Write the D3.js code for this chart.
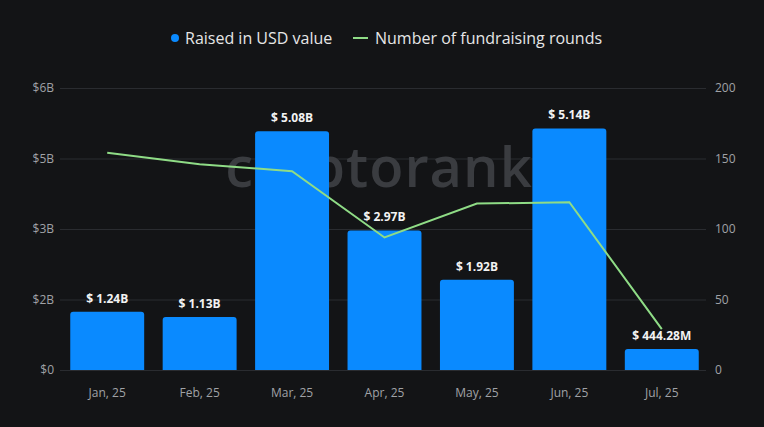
<!DOCTYPE html>
<html>
<head>
<meta charset="utf-8">
<script src="https://cdn.jsdelivr.net/npm/d3@7"></script>
<style>
  body { margin: 0; background: #131416; }
  svg { display: block; font-family: "Open Sans", "Noto Sans", sans-serif; }
</style>
</head>
<body>
<div id="container"></div>
<script>
let w = 764;
let h = 427;

// data
let months = ["Jan, 25", "Feb, 25", "Mar, 25", "Apr, 25", "May, 25", "Jun, 25", "Jul, 25"];
let raisedUSD = [1.24e9, 1.13e9, 5.08e9, 2.97e9, 1.92e9, 5.14e9, 444.28e6];
let raisedLabels = ["$ 1.24B", "$ 1.13B", "$ 5.08B", "$ 2.97B", "$ 1.92B", "$ 5.14B", "$ 444.28M"];
let rounds = [154, 146, 141, 94, 118, 119, 29];
let leftTicks = [0, 1.5e9, 3e9, 4.5e9, 6e9];
let leftTickLabels = ["$0", "$2B", "$3B", "$5B", "$6B"];
let rightTicks = [0, 50, 100, 150, 200];

let blue = "#0a8aff";
let green = "#8fdc86";

let viz = d3.select("#container")
  .append("svg")
    .attr("width", w)
    .attr("height", h)
    .style("background-color", "#131416");

let plotLeft = 61, plotRight = 708, plotTop = 88, plotBottom = 370;

let xScale = d3.scaleBand().domain(months).range([plotLeft, plotRight]).paddingInner(0.2).paddingOuter(0.1);
let yLeft = d3.scaleLinear().domain([0, 6e9]).range([plotBottom, plotTop]);
let yRight = d3.scaleLinear().domain([0, 200]).range([plotBottom, plotTop]);

// gridlines
viz.append("g").selectAll("line")
  .data(leftTicks)
  .join("line")
    .attr("x1", 60)
    .attr("x2", 706)
    .attr("y1", d => yLeft(d) + 0.5)
    .attr("y2", d => yLeft(d) + 0.5)
    .attr("stroke", "#2a2c30")
    .attr("stroke-width", 1);

// watermark
viz.append("text")
  .attr("x", 379)
  .attr("y", 187)
  .attr("text-anchor", "middle")
  .attr("font-size", 56)
  .attr("font-weight", 600)
  .attr("fill", "#3a3c40")
  .attr("letter-spacing", 1)
  .text("cryptorank");

// left axis
let yAxisL = d3.axisLeft(yLeft).tickValues(leftTicks).tickSize(0).tickPadding(6)
  .tickFormat((d, i) => leftTickLabels[i]);
let yAxisLG = viz.append("g").attr("transform", "translate(60,0)").call(yAxisL);

// right axis
let yAxisR = d3.axisRight(yRight).tickValues(rightTicks).tickSize(0).tickPadding(9);
let yAxisRG = viz.append("g").attr("transform", "translate(706,0)").call(yAxisR);

// x axis
let xAxis = d3.axisBottom(xScale).tickSize(0).tickPadding(18);
let xAxisG = viz.append("g").attr("transform", "translate(0," + plotBottom + ")").call(xAxis);

[yAxisLG, yAxisRG, xAxisG].forEach(g => {
  g.select(".domain").remove();
  g.selectAll("text")
    .attr("fill", "#a0a2a6")
    .attr("font-size", 12)
    .attr("font-family", "'Open Sans', 'Noto Sans', sans-serif");
});

// bars
viz.append("g").selectAll("path")
  .data(raisedUSD)
  .join("path")
    .attr("fill", blue)
    .attr("d", (d, i) => {
      let x0 = xScale(months[i]);
      let bw = xScale.bandwidth();
      let y0 = yLeft(d);
      let r = 3;
      return "M" + x0 + "," + plotBottom +
        "V" + (y0 + r) +
        "Q" + x0 + "," + y0 + " " + (x0 + r) + "," + y0 +
        "H" + (x0 + bw - r) +
        "Q" + (x0 + bw) + "," + y0 + " " + (x0 + bw) + "," + (y0 + r) +
        "V" + plotBottom + "Z";
    });

// bar value labels
viz.append("g").selectAll("text")
  .data(raisedUSD)
  .join("text")
    .attr("x", (d, i) => xScale(months[i]) + xScale.bandwidth() / 2)
    .attr("y", d => yLeft(d) - 9)
    .attr("text-anchor", "middle")
    .attr("font-size", 12)
    .attr("font-weight", 700)
    .attr("fill", "#f2f2f2")
    .text((d, i) => raisedLabels[i]);

// rounds line
let line = d3.line()
  .x((d, i) => xScale(months[i]) + xScale.bandwidth() / 2)
  .y(d => yRight(d));

viz.append("path")
  .datum(rounds)
  .attr("d", line)
  .attr("fill", "none")
  .attr("stroke", green)
  .attr("stroke-width", 2);

// legend
let legend = viz.append("g").attr("font-size", 16).attr("fill", "#e6e6e6");
legend.append("circle").attr("cx", 175).attr("cy", 38).attr("r", 4).attr("fill", blue);
legend.append("text").attr("x", 185).attr("y", 44).text("Raised in USD value");
legend.append("line").attr("x1", 353).attr("x2", 368).attr("y1", 38).attr("y2", 38)
  .attr("stroke", green).attr("stroke-width", 2);
legend.append("text").attr("x", 375).attr("y", 44).text("Number of fundraising rounds");
</script>
</body>
</html>
